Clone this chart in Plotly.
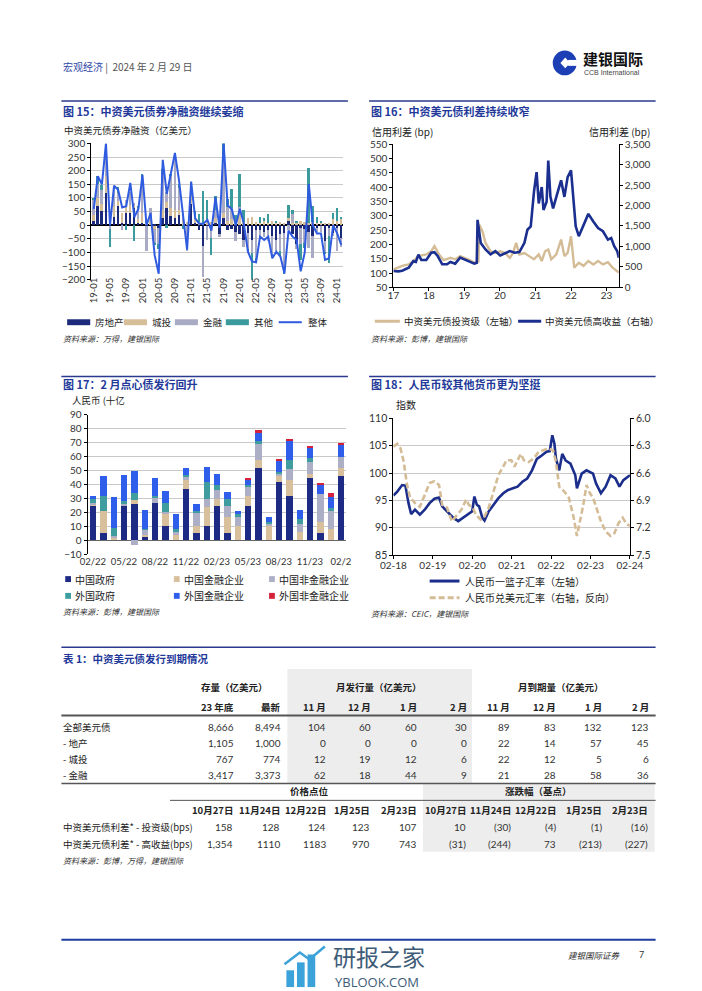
import plotly.graph_objects as go

W, H = 702, 991
def X(px): return px / W
def Y(py): return 1 - py / H

CJK = "Noto Sans CJK SC"
NUM = "Lato"
TITLE_BLUE = "#22399A"
RULE = "#2B3A8E"
GRID = "#C9C9C9"

# ---------------- Figure 15 data ----------------
months15 = ["19-01","19-02","19-03","19-04","19-05","19-06","19-07","19-08","19-09","19-10","19-11","19-12",
            "20-01","20-02","20-03","20-04","20-05","20-06","20-07","20-08","20-09","20-10","20-11","20-12",
            "21-01","21-02","21-03","21-04","21-05","21-06","21-07","21-08","21-09","21-10","21-11","21-12",
            "22-01","22-02","22-03","22-04","22-05","22-06","22-07","22-08","22-09","22-10","22-11","22-12",
            "23-01","23-02","23-03","23-04","23-05","23-06","23-07","23-08","23-09","23-10","23-11","23-12",
            "24-01","24-02"]
property15 = [15,68,52,118,-5,30,68,5,45,42,60,5,
              5,-5,0,-5,-10,25,62,32,25,35,0,-5,
              75,5,-20,-78,-5,-10,5,-35,25,-20,-15,-25,
              -35,-55,-30,-55,-20,-20,-25,-20,-40,-55,-35,-30,
              15,-35,-70,-10,-15,-25,-40,-10,-5,-60,-10,-30,
              -10,-50]
lgfv15 = [20,30,25,60,0,40,20,40,25,30,10,15,
          40,10,20,-10,0,30,20,30,30,20,10,10,
          30,20,10,5,20,10,20,10,20,15,20,15,
          35,10,25,30,10,5,15,5,15,5,10,5,
          10,5,10,15,10,5,10,5,10,5,5,20,
          15,20]
fin15 = [55,50,50,100,-10,60,30,-20,20,50,10,40,
         100,-90,40,-50,-60,130,40,120,190,80,30,-90,
         30,10,0,-115,-50,-40,30,-10,200,50,40,-35,
         30,-25,-60,-50,-100,-30,-20,-40,-70,-40,-60,-130,
         -20,35,-20,-60,-50,-60,-80,-15,-20,-40,-30,-10,
         -85,-30]
other15 = [10,30,20,20,-65,10,20,0,-20,0,-60,10,
           40,5,0,-10,-20,20,-10,5,10,15,-15,0,
           10,15,30,120,70,-60,50,15,60,30,70,20,
           120,45,-10,-155,-20,25,10,35,-5,10,-20,-20,
           48,15,5,-60,-20,205,60,25,5,-5,-100,25,
           45,10]
total15 = [60,180,150,300,0,145,130,65,70,155,30,60,
           185,0,45,-110,-178,240,115,185,265,165,25,-90,
           160,25,5,5,20,-20,103,-10,300,72,60,0,
           60,5,-97,-133,-136,-42,-54,-42,-121,-97,-115,-177,
           -20,-42,-54,-169,-100,151,0,-30,-30,-127,-121,0,
           -30,-72]
ticks15 = months15[::4]

# ---------------- Figure 16 data ----------------
hy_dates = ["2017-01-01","2017-02-20","2017-04-01","2017-06-07","2017-07-25","2017-08-20",
            "2017-09-15","2017-10-15","2017-12-05","2018-01-25","2018-02-27","2018-04-01",
            "2018-05-18","2018-07-06","2018-08-10","2018-09-28","2018-11-18","2019-01-06",
            "2019-02-25","2019-04-13","2019-05-08","2019-05-16","2019-06-18","2019-08-06",
            "2019-09-27","2019-11-15","2020-01-04","2020-02-22","2020-04-12","2020-06-01",
            "2020-07-19","2020-09-09","2020-10-10","2020-11-13","2020-12-16","2021-01-12",
            "2021-02-03","2021-03-06","2021-03-24","2021-04-25","2021-05-12","2021-06-03",
            "2021-07-01","2021-08-03","2021-09-21","2021-10-25","2021-11-27","2022-01-01",
            "2022-01-22","2022-02-18","2022-03-22","2022-05-10","2022-06-28","2022-08-18",
            "2022-10-06","2022-11-25","2023-01-15","2023-02-18","2023-03-21","2023-04-22",
            "2023-05-07"]
hy_values = [400,390,405,480,640,620,
             800,670,670,845,860,765,
             563,563,620,580,725,670,
             620,580,600,1650,1086,925,
             805,885,780,830,885,845,
             860,1086,1408,1490,2333,2816,
             2050,2450,1890,2090,3100,2210,
             1930,2210,2615,2210,2695,2856,
             2290,1490,1250,1530,1795,1610,
             1450,1370,1165,1205,1005,880,
             725]
ig_dates = ["2017-01-01","2017-04-01","2017-06-07","2017-07-25","2017-09-15","2017-12-05",
            "2018-01-25","2018-02-27","2018-04-15","2018-06-01","2018-08-10","2018-09-28",
            "2018-11-18","2019-01-06","2019-02-25","2019-04-13","2019-05-25","2019-06-03",
            "2019-07-06","2019-08-06","2019-09-27","2019-11-15","2020-01-04","2020-02-22",
            "2020-04-12","2020-05-15","2020-06-16","2020-07-19","2020-09-09","2020-10-27",
            "2020-12-16","2021-02-03","2021-03-06","2021-04-09","2021-05-12","2021-06-12",
            "2021-08-03","2021-09-21","2021-10-25","2021-11-27","2022-01-01","2022-02-03",
            "2022-03-22","2022-05-10","2022-06-28","2022-08-18","2022-10-06","2022-11-25",
            "2023-01-15","2023-03-04","2023-05-07"]
ig_values = [113,125,130,142,159,165,
             176,194,165,145,153,148,
             159,153,145,136,140,268,
             245,205,176,170,176,170,
             153,170,205,165,170,159,
             148,165,142,176,182,148,
             165,217,159,170,228,119,
             136,125,142,130,142,130,
             138,119,102]
years16 = ["2017-01-01","2018-01-01","2019-01-01","2020-01-01","2021-01-01","2022-01-01","2023-01-01"]
years16_text = ["17","18","19","20","21","22","23"]

# ---------------- Figure 17 data ----------------
months17 = ["02/22","03/22","04/22","05/22","06/22","07/22","08/22","09/22","10/22","11/22","12/22",
            "01/23","02/23","03/23","04/23","05/23","06/23","07/23","08/23","09/23","10/23","11/23",
            "12/23","01/24","02/24"]
cn_gov = [25,5,0,25,26,2.5,27,10.5,0,37,5,10,25,5,0,25,52,0,42,32,0,45,5,0,46]
cn_fin = [1,16,2,0,3,1,0,9,4,6,5,14,5,12,10,7,6,10,4,11,6,3,8,8,6]
cn_nonfin = [1,0,1,1,-3,4,4,1,2,3,10,6,6,8,7,7,11,2,2,8,6,8,20,13,8]
fx_gov = [3,11,6,2,5,1,1,6,2,1,1,12,4,5,2,1,2,1,1,7,3,3,0,2,0]
fx_fin = [2,14,22,19,16,13,13,9,11,5,5,11,8,5,2,4,6,4,8,14,7,7,7,8,9]
fx_nonfin = [0,0,0,0,0,0,0,0,0,0,0,0,0,0,0,0.5,2,0,1,0.5,0,2,1,3,1]
ticks17 = months17[::3]
ticks17_text = ["02/22","05/22","08/22","11/22","02/23","05/23","08/23","11/23","02/2"]

# ---------------- Figure 18 data ----------------
basket_dates = ["2018-02-01","2018-03-09","2018-04-23","2018-05-23","2018-06-21","2018-07-15",
                "2018-08-20","2018-10-04","2018-11-18","2019-01-02","2019-02-16","2019-03-30",
                "2019-04-29","2019-06-13","2019-07-12","2019-08-11","2019-09-25","2019-11-09",
                "2019-12-23","2020-02-01","2020-02-21","2020-03-15","2020-04-05","2020-05-05",
                "2020-05-25","2020-07-03","2020-08-17","2020-10-01","2020-11-15","2020-12-29",
                "2021-02-12","2021-03-27","2021-05-11","2021-06-24","2021-08-08","2021-09-22",
                "2021-11-06","2021-12-20","2022-01-19","2022-02-12","2022-03-03","2022-03-18",
                "2022-04-17","2022-05-15","2022-06-15","2022-07-30","2022-09-13","2022-09-28",
                "2022-11-11","2022-12-26","2023-02-24","2023-03-24","2023-05-08","2023-06-21",
                "2023-08-05","2023-09-19","2023-10-27","2023-12-02","2024-02-01"]
basket_values = [95.9,96.6,97.8,97.7,94.5,92.5,
                 93.3,92.4,93.3,94.5,95.3,95.5,
                 93.9,93.0,92.4,91.8,91.2,91.8,
                 92.4,93.0,95.7,94.2,93.9,91.8,
                 91.3,93.0,94.2,95.4,96.3,96.9,
                 97.2,97.5,98.4,99.0,100.5,102.6,
                 103.2,103.9,104.0,106.9,105.4,102.6,
                 100.5,103.5,102.3,101.7,99.6,97.2,
                 99.9,100.5,99.9,98.1,96.3,97.5,
                 99.6,99.0,97.5,98.7,99.6]
cny_dates = ["2018-02-01","2018-03-09","2018-04-08","2018-05-08","2018-06-07","2018-07-06",
             "2018-08-20","2018-10-04","2018-11-18","2019-01-02","2019-02-16","2019-03-30",
             "2019-04-29","2019-06-13","2019-07-27","2019-09-10","2019-10-25","2019-12-08",
             "2020-01-01","2020-02-07","2020-03-06","2020-04-20","2020-05-19","2020-07-03",
             "2020-08-17","2020-10-01","2020-11-15","2020-12-14","2021-01-28","2021-02-27",
             "2021-03-27","2021-04-26","2021-05-25","2021-07-09","2021-08-23","2021-10-07",
             "2021-11-21","2022-01-04","2022-02-18","2022-03-18","2022-04-17","2022-06-01",
             "2022-07-15","2022-08-29","2022-09-28","2022-10-27","2022-11-26","2022-12-26",
             "2023-01-25","2023-02-24","2023-03-24","2023-05-08","2023-06-21","2023-08-05",
             "2023-09-10","2023-10-18","2023-11-26","2024-01-01","2024-02-01"]
cny_values = [6.31,6.28,6.33,6.48,6.73,6.87,
              6.93,6.97,6.84,6.71,6.69,6.73,
              6.95,6.98,7.13,7.06,7.00,6.89,
              6.95,6.98,7.06,7.11,7.09,6.98,
              6.80,6.62,6.53,6.46,6.46,6.53,
              6.46,6.39,6.46,6.48,6.44,6.37,
              6.35,6.33,6.35,6.48,6.75,6.80,
              6.87,7.09,7.29,7.13,6.95,6.73,
              6.82,6.87,6.98,7.13,7.24,7.29,
              7.26,7.15,7.09,7.16,7.18]
dates18 = ["2018-02-01","2019-02-01","2020-02-01","2021-02-01","2022-02-01","2023-02-01","2024-02-01"]
dates18_text = ["02-18","02-19","02-20","02-21","02-22","02-23","02-24"]

# ---------------- Table data ----------------
tbl_rows = ["全部美元债", "- 地产", "- 城投", "- 金融"]
stock_end23 = ["8,666", "1,105", "767", "3,417"]
stock_latest = ["8,494", "1,000", "774", "3,373"]
issuance = [["104", "60", "60", "30"], ["0", "0", "0", "0"], ["12", "19", "12", "6"], ["62", "18", "44", "9"]]
maturity = [["89", "83", "132", "123"], ["22", "14", "57", "45"], ["22", "12", "5", "6"], ["21", "28", "58", "36"]]
month_heads = ["11 月", "12 月", "1 月", "2 月"]
spread_rows = ["中资美元债利差* - 投资级(bps)", "中资美元债利差* - 高收益(bps)"]
spread_dates = ["10月27日", "11月24日", "12月22日", "1月25日", "2月23日"]
spread_levels = [["158", "128", "124", "123", "107"], ["1,354", "1110", "1183", "970", "743"]]
spread_changes = [["10", "(30)", "(4)", "(1)", "(16)"], ["(31)", "(244)", "73", "(213)", "(227)"]]

# ---------------- build figure ----------------
fig = go.Figure()

c15 = {"房地产": "#1B2A7B", "城投": "#D5BE98", "金融": "#A9ABC4", "其他": "#3A9A9C"}
for name, vals in [("房地产", property15), ("城投", lgfv15), ("金融", fin15), ("其他", other15)]:
    fig.add_trace(go.Bar(x=months15, y=vals, name=name, marker_color=c15[name], marker_line_width=0,
                         width=0.6, xaxis="x", yaxis="y", showlegend=False))
fig.add_trace(go.Scatter(x=months15, y=total15, mode="lines", line=dict(color="#2F5BE0", width=2),
                         xaxis="x", yaxis="y", showlegend=False))

fig.add_trace(go.Scatter(x=ig_dates, y=ig_values, mode="lines", line=dict(color="#D4BC96", width=2.4),
                         xaxis="x2", yaxis="y2", showlegend=False))
fig.add_trace(go.Scatter(x=hy_dates, y=hy_values, mode="lines", line=dict(color="#1A2F8F", width=2.6),
                         xaxis="x2", yaxis="y3", showlegend=False))

c17 = ["#1E2B85", "#D8C09C", "#ADAFC7", "#3F9D9F", "#2F5FEA", "#D3223A"]
for vals, col in zip([cn_gov, cn_fin, cn_nonfin, fx_gov, fx_fin, fx_nonfin], c17):
    fig.add_trace(go.Bar(x=months17, y=vals, marker_color=col, marker_line_width=0, width=0.62,
                         xaxis="x3", yaxis="y5", showlegend=False))

fig.add_trace(go.Scatter(x=basket_dates, y=basket_values, mode="lines", line=dict(color="#1C2E8C", width=2.6),
                         xaxis="x4", yaxis="y6", showlegend=False))
fig.add_trace(go.Scatter(x=cny_dates, y=cny_values, mode="lines",
                         line=dict(color="#D4BC96", width=2.6, dash="6px,3px"),
                         xaxis="x4", yaxis="y7", showlegend=False))

tickf = dict(family=NUM, size=10, color="#333")

layout = dict(
    width=W, height=H, margin=dict(l=0, r=0, t=0, b=0),
    paper_bgcolor="white", plot_bgcolor="white", barmode="relative", bargap=0,
    font=dict(family=CJK, color="#222"),
    # Fig 15
    xaxis=dict(domain=[X(73), X(335)], anchor="y", type="category", range=[-0.64, 61.46],
               tickvals=ticks15, tickangle=-90, tickfont=dict(family=NUM, size=9.5, color="#333"),
               showgrid=False, showline=False, ticks="", ticklabelstandoff=-5),
    yaxis=dict(domain=[Y(269), Y(131)], anchor="x", range=[-200, 300], dtick=50,
               gridcolor=GRID, gridwidth=1, showline=True, linecolor="#000", linewidth=1,
               ticks="outside", ticklen=3, tickcolor="#000",
               zeroline=True, zerolinecolor="#000", zerolinewidth=1.5, tickfont=tickf),
    # Fig 16
    xaxis2=dict(domain=[X(387.3), X(621.7)], anchor="y2", type="date",
                range=["2017-01-01", "2023-05-07"], tickvals=years16, ticktext=years16_text,
                showgrid=False, showline=True, linecolor="#000", ticks="outside", ticklen=3,
                tickcolor="#000", tickfont=tickf, ticklabelstandoff=-4),
    yaxis2=dict(domain=[Y(276.7), Y(131.7)], anchor="x2", range=[50, 550],
                tickvals=[50,100,150,200,250,300,350,400,450,500,550],
                showgrid=False, showline=True, linecolor="#000", ticks="outside", ticklen=3,
                tickcolor="#000", zeroline=False, tickfont=tickf),
    yaxis3=dict(overlaying="y2", anchor="x2", side="right", range=[0, 3500], dtick=500,
                tickformat=",", showgrid=False, showline=True, linecolor="#000", ticks="outside",
                ticklen=3, tickcolor="#000", zeroline=False, tickfont=tickf),
    yaxis4=dict(overlaying="y2", anchor="x2", range=[50, 550], dtick=100, tick0=0,
                showgrid=True, gridcolor=GRID, showticklabels=False, showline=False,
                ticks="", zeroline=False),
    # Fig 17
    xaxis3=dict(domain=[X(69.3), X(338)], anchor="y5", type="category", range=[-0.5, 24.5],
                tickvals=ticks17, ticktext=ticks17_text, tickangle=0, showgrid=False,
                showline=False, ticks="", tickfont=dict(family=NUM, size=9.5, color="#333")),
    yaxis5=dict(domain=[Y(546.7), Y(405.7)], anchor="x3", range=[-10, 90], dtick=10,
                gridcolor=GRID, showline=True, linecolor="#000", ticks="outside", ticklen=3,
                tickcolor="#000", zeroline=True, zerolinecolor="#666", zerolinewidth=1,
                tickfont=dict(family=NUM, size=10, color="#333")),
    # Fig 18
    xaxis4=dict(domain=[X(387.3), X(633.3)], anchor="y6", type="date",
                range=["2018-02-01", "2024-02-01"], tickvals=dates18, ticktext=dates18_text,
                showgrid=False, showline=True, linecolor="#000", ticks="outside", ticklen=3,
                tickcolor="#000", tickfont=dict(family=NUM, size=10, color="#333"),
                ticklabelstandoff=-2),
    yaxis6=dict(domain=[Y(547.7), Y(409.3)], anchor="x4", range=[85, 110], dtick=5,
                gridcolor=GRID, showline=True, linecolor="#000", ticks="outside", ticklen=3,
                tickcolor="#000", zeroline=False, tickfont=dict(family=NUM, size=10.5, color="#333")),
    yaxis7=dict(overlaying="y6", anchor="x4", side="right", range=[7.5, 6.0],
                tickvals=[6.0, 6.3, 6.6, 6.9, 7.2, 7.5], ticktext=["6.0","6.3","6.6","6.9","7.2","7.5"],
                showgrid=False, showline=True, linecolor="#000", ticks="outside", ticklen=3,
                tickcolor="#000", zeroline=False, tickfont=dict(family=NUM, size=10.5, color="#333")),
)

ann = []
shapes = []

def txt(s, x, y, size=10, color="#222", bold=False, italic=False, xanchor="left", family=CJK):
    if bold:
        s = f"<b>{s}</b>"
    if italic:
        s = f"<i>{s}</i>"
    ann.append(dict(text=s, x=X(x), y=Y(y), xref="paper", yref="paper", xanchor=xanchor,
                    yanchor="middle", showarrow=False, font=dict(size=size, color=color, family=family)))

def hline(x0, x1, y, color="#000", width=1, dash="solid"):
    shapes.append(dict(type="line", xref="paper", yref="paper", x0=X(x0), x1=X(x1), y0=Y(y), y1=Y(y),
                       line=dict(color=color, width=width, dash=dash)))

def rect(x0, y0, x1, y1, color, layer="above"):
    shapes.append(dict(type="rect", xref="paper", yref="paper", x0=X(x0), x1=X(x1), y0=Y(y1), y1=Y(y0),
                       fillcolor=color, line=dict(width=0), layer=layer))

# ---- header ----
txt("<span style='color:#2F49A8'>宏观经济</span><span style='color:#555'> |  2024 年 2 月 29 日</span>",
    42, 53, size=10)
shapes.append(dict(type="circle", xref="paper", yref="paper", x0=X(553), x1=X(578), y0=Y(62), y1=Y(37),
                   fillcolor="#1D3FB5", line=dict(width=0)))
shapes.append(dict(type="path", xref="paper", yref="paper",
                   path=f"M {X(566)} {Y(44)} L {X(571)} {Y(49.5)} L {X(566)} {Y(55)} L {X(561)} {Y(49.5)} Z",
                   fillcolor="white", line=dict(width=0)))
rect(569, 46.5, 579, 52.5, "white")
txt("建银国际", 582, 45, size=15, color="#111", bold=True)
txt("CCB International", 583, 59, size=7, color="#444", family="Liberation Sans")

# ---- Fig 15 ----
hline(42, 340, 88, RULE, 1.5)
txt("图 15：中资美元债券净融资继续萎缩", 42, 98, size=11, color=TITLE_BLUE, bold=True)
txt("中资美元债券净融资（亿美元）", 43, 117, size=9.5, color="#222")
leg15 = [("房地产", "#1B2A7B", 48), ("城投", "#D5BE98", 107), ("金融", "#A9ABC4", 160), ("其他", "#3A9A9C", 213)]
for name, col, x0 in leg15:
    rect(x0, 309, x0 + 24, 315, col)
    txt(name, x0 + 27, 312, size=9.5)
hline(268, 292, 312, "#2F5BE0", 2)
txt("整体", 296, 312, size=9.5)
txt("资料来源：万得，建银国际", 42, 328, size=8, color="#333", italic=True)

# ---- Fig 16 ----
hline(362, 660, 88, RULE, 1.5)
txt("图 16：中资美元债利差持续收窄", 362, 98, size=11, color=TITLE_BLUE, bold=True)
txt("信用利差 (bp)", 363, 119, size=10)
txt("信用利差 (bp)", 656, 119, size=10, xanchor="right")
hline(368, 394, 311, "#D4BC96", 3)
txt("中资美元债投资级（左轴）", 396, 311, size=9.5)
hline(517, 541, 311, "#1A2F8F", 3)
txt("中资美元债高收益（右轴）", 543, 311, size=9.5)
txt("资料来源：彭博，建银国际", 362, 328, size=8, color="#333", italic=True)

# ---- Fig 17 ----
hline(42, 340, 367, RULE, 1.5)
txt("图 17：2 月点心债发行回升", 42, 375, size=11, color=TITLE_BLUE, bold=True)
txt("人民币 (十亿", 51, 391, size=9.5)
leg17 = [("中国政府", 46, 572), ("中国金融企业", 159, 572), ("中国非金融企业", 258, 572),
         ("外国政府", 46, 589), ("外国金融企业", 159, 589), ("外国非金融企业", 258, 589)]
for (name, x0, yy), col in zip(leg17, c17):
    rect(x0, yy - 3, x0 + 6, yy + 3, col)
    txt(name, x0 + 8, yy, size=10)
txt("资料来源：彭博，建银国际", 42, 605, size=8, color="#333", italic=True)

# ---- Fig 18 ----
hline(362, 660, 367, RULE, 1.5)
txt("图 18：人民币较其他货币更为坚挺", 362, 375, size=11, color=TITLE_BLUE, bold=True)
txt("指数", 388, 395, size=10)
hline(425, 456, 574, "#1C2E8C", 3)
txt("人民币一篮子汇率（左轴）", 460, 574, size=10)
hline(425, 456, 591, "#D4BC96", 3, dash="6px,3px")
txt("人民币兑美元汇率（右轴，反向）", 460, 591, size=10)
txt("资料来源：CEIC，建银国际", 362, 607, size=8, color="#333", italic=True)

# ---- Table ----
rect(277, 663, 469, 779, "#EDEDED", layer="below")
rect(418, 779, 659, 848, "#EDEDED", layer="below")
hline(42, 660, 641, RULE, 1.5)
txt("表 1：中资美元债发行到期情况", 42, 652, size=10.5, color=TITLE_BLUE, bold=True)
R = [224, 272, 319, 366, 414, 466, 511, 558, 606, 655]
txt("存量（亿美元）", 222, 681, size=9.5, bold=True, xanchor="center")
txt("月发行量（亿美元）", 372, 681, size=9.5, bold=True, xanchor="center")
txt("月到期量（亿美元）", 562, 681, size=9.5, bold=True, xanchor="center")
heads = ["23 年底", "最新"] + month_heads + month_heads
for r, hd in zip(R, heads):
    txt(hd, r, 701, size=9.5, bold=True, xanchor="right")
hline(42, 660, 710, "#555", 2)
row_y = [722, 738, 754, 770]
for i, (lab, yy) in enumerate(zip(tbl_rows, row_y)):
    txt(lab, 42, yy, size=9.5)
    vals = [stock_end23[i], stock_latest[i]] + issuance[i] + maturity[i]
    for r, v in zip(R, vals):
        txt(v, r, yy, size=10, color="#333", xanchor="right", family=NUM)
hline(42, 660, 779, "#555", 1.5)
txt("价格点位", 300, 787, size=9.5, bold=True, xanchor="center")
txt("涨跌幅（基点）", 538, 787, size=9.5, bold=True, xanchor="center")
R2 = [223, 271, 319, 365, 414, 465, 512, 558, 606, 654]
for r, d in zip(R2, spread_dates + spread_dates):
    txt(d, r, 806, size=9.5, bold=True, xanchor="right")
hline(155, 660, 796, "#555", 1)
row_y2 = [823, 840]
for i, (lab, yy) in enumerate(zip(spread_rows, row_y2)):
    txt(lab, 42, yy, size=9.5)
    vals = spread_levels[i] + spread_changes[i]
    for r, v in zip(R2, vals):
        txt(v, r, yy, size=10, color="#333", xanchor="right", family=NUM)
txt("资料来源：彭博，万得，建银国际", 42, 857, size=8, color="#333", italic=True)

# ---- Footer ----
hline(42, 660, 937, "#1F3DA0", 2)
txt("建银国际证券", 626, 953, size=8.5, color="#333", italic=True, xanchor="right")
txt("7", 650, 952, size=9, color="#333", xanchor="right", family=NUM)
for x0, top in [(276, 968), (287, 960), (298, 952)]:
    rect(x0, top, x0 + 8, 985, "#3BA3DA")
shapes.append(dict(type="path", xref="paper", yref="paper",
                   path=f"M {X(274)} {Y(962)} L {X(290)} {Y(950)} L {X(300)} {Y(957)} L {X(316)} {Y(944)}",
                   line=dict(color="#3BA3DA", width=2.5)))
txt("研报之家", 322, 954, size=23, color="#3E5C78")
txt("YBLOOK.COM", 324, 980, size=13, color="#3E5C78", family="Open Sans")

layout["annotations"] = ann
layout["shapes"] = shapes
fig.update_layout(**layout)
fig.write_html("out.html")
